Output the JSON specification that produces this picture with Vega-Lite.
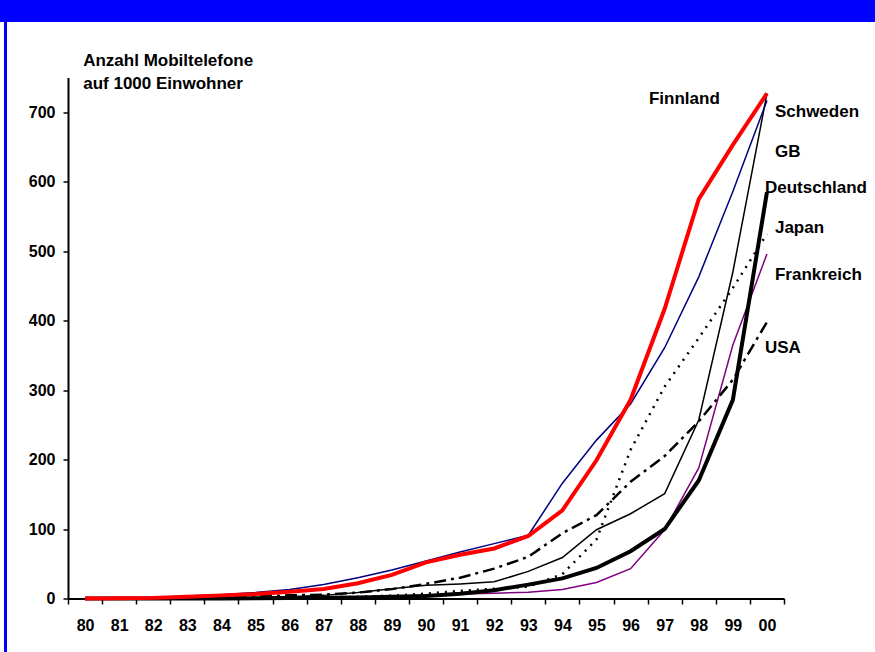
{
  "$schema": "https://vega.github.io/schema/vega-lite/v6.json",
  "padding": 0,
  "background": "white",
  "spacing": 0,
  "bounds": "flush",
  "datasets": {
    "series": [
      {"country":"Finnland","year":"80","value":0},{"country":"Finnland","year":"81","value":0.4},{"country":"Finnland","year":"82","value":0.9},{"country":"Finnland","year":"83","value":2.5},{"country":"Finnland","year":"84","value":4.5},{"country":"Finnland","year":"85","value":6.4},{"country":"Finnland","year":"86","value":9.6},{"country":"Finnland","year":"87","value":13.6},{"country":"Finnland","year":"88","value":22},{"country":"Finnland","year":"89","value":34},{"country":"Finnland","year":"90","value":52},{"country":"Finnland","year":"91","value":63},{"country":"Finnland","year":"92","value":72},{"country":"Finnland","year":"93","value":90},{"country":"Finnland","year":"94","value":127},{"country":"Finnland","year":"95","value":199},{"country":"Finnland","year":"96","value":286},{"country":"Finnland","year":"97","value":417},{"country":"Finnland","year":"98","value":575},{"country":"Finnland","year":"99","value":653},{"country":"Finnland","year":"00","value":727},
      {"country":"Schweden","year":"80","value":0.3},{"country":"Schweden","year":"81","value":0.5},{"country":"Schweden","year":"82","value":1.5},{"country":"Schweden","year":"83","value":3.5},{"country":"Schweden","year":"84","value":5.5},{"country":"Schweden","year":"85","value":8.5},{"country":"Schweden","year":"86","value":13},{"country":"Schweden","year":"87","value":20},{"country":"Schweden","year":"88","value":30},{"country":"Schweden","year":"89","value":41},{"country":"Schweden","year":"90","value":54},{"country":"Schweden","year":"91","value":67},{"country":"Schweden","year":"92","value":79},{"country":"Schweden","year":"93","value":91},{"country":"Schweden","year":"94","value":166},{"country":"Schweden","year":"95","value":228},{"country":"Schweden","year":"96","value":280},{"country":"Schweden","year":"97","value":361},{"country":"Schweden","year":"98","value":463},{"country":"Schweden","year":"99","value":586},{"country":"Schweden","year":"00","value":717},
      {"country":"GB","year":"80","value":0},{"country":"GB","year":"81","value":0},{"country":"GB","year":"82","value":0},{"country":"GB","year":"83","value":0},{"country":"GB","year":"84","value":0},{"country":"GB","year":"85","value":1},{"country":"GB","year":"86","value":2.5},{"country":"GB","year":"87","value":4.5},{"country":"GB","year":"88","value":8.5},{"country":"GB","year":"89","value":14},{"country":"GB","year":"90","value":19},{"country":"GB","year":"91","value":21},{"country":"GB","year":"92","value":24},{"country":"GB","year":"93","value":39},{"country":"GB","year":"94","value":59},{"country":"GB","year":"95","value":99},{"country":"GB","year":"96","value":122},{"country":"GB","year":"97","value":151},{"country":"GB","year":"98","value":257},{"country":"GB","year":"99","value":470},{"country":"GB","year":"00","value":727},
      {"country":"Deutschland","year":"80","value":0},{"country":"Deutschland","year":"81","value":0},{"country":"Deutschland","year":"82","value":0},{"country":"Deutschland","year":"83","value":0},{"country":"Deutschland","year":"84","value":0},{"country":"Deutschland","year":"85","value":0.5},{"country":"Deutschland","year":"86","value":0.7},{"country":"Deutschland","year":"87","value":1},{"country":"Deutschland","year":"88","value":1.6},{"country":"Deutschland","year":"89","value":2.6},{"country":"Deutschland","year":"90","value":3.5},{"country":"Deutschland","year":"91","value":7},{"country":"Deutschland","year":"92","value":12},{"country":"Deutschland","year":"93","value":20},{"country":"Deutschland","year":"94","value":29},{"country":"Deutschland","year":"95","value":44},{"country":"Deutschland","year":"96","value":68},{"country":"Deutschland","year":"97","value":100},{"country":"Deutschland","year":"98","value":170},{"country":"Deutschland","year":"99","value":286},{"country":"Deutschland","year":"00","value":585},
      {"country":"Japan","year":"80","value":0},{"country":"Japan","year":"81","value":0},{"country":"Japan","year":"82","value":0},{"country":"Japan","year":"83","value":0},{"country":"Japan","year":"84","value":0},{"country":"Japan","year":"85","value":0.5},{"country":"Japan","year":"86","value":1},{"country":"Japan","year":"87","value":1.5},{"country":"Japan","year":"88","value":2.5},{"country":"Japan","year":"89","value":4},{"country":"Japan","year":"90","value":7},{"country":"Japan","year":"91","value":11},{"country":"Japan","year":"92","value":14},{"country":"Japan","year":"93","value":17},{"country":"Japan","year":"94","value":35},{"country":"Japan","year":"95","value":85},{"country":"Japan","year":"96","value":214},{"country":"Japan","year":"97","value":305},{"country":"Japan","year":"98","value":375},{"country":"Japan","year":"99","value":447},{"country":"Japan","year":"00","value":525},
      {"country":"Frankreich","year":"80","value":0},{"country":"Frankreich","year":"81","value":0},{"country":"Frankreich","year":"82","value":0},{"country":"Frankreich","year":"83","value":0},{"country":"Frankreich","year":"84","value":0},{"country":"Frankreich","year":"85","value":0.2},{"country":"Frankreich","year":"86","value":0.3},{"country":"Frankreich","year":"87","value":0.8},{"country":"Frankreich","year":"88","value":1.7},{"country":"Frankreich","year":"89","value":3},{"country":"Frankreich","year":"90","value":5},{"country":"Frankreich","year":"91","value":6.5},{"country":"Frankreich","year":"92","value":7.5},{"country":"Frankreich","year":"93","value":9},{"country":"Frankreich","year":"94","value":13},{"country":"Frankreich","year":"95","value":23},{"country":"Frankreich","year":"96","value":43},{"country":"Frankreich","year":"97","value":99},{"country":"Frankreich","year":"98","value":188},{"country":"Frankreich","year":"99","value":365},{"country":"Frankreich","year":"00","value":496},
      {"country":"USA","year":"80","value":0},{"country":"USA","year":"81","value":0},{"country":"USA","year":"82","value":0},{"country":"USA","year":"83","value":0.5},{"country":"USA","year":"84","value":1.5},{"country":"USA","year":"85","value":3},{"country":"USA","year":"86","value":4.5},{"country":"USA","year":"87","value":5.5},{"country":"USA","year":"88","value":8.5},{"country":"USA","year":"89","value":13.5},{"country":"USA","year":"90","value":21},{"country":"USA","year":"91","value":30},{"country":"USA","year":"92","value":43},{"country":"USA","year":"93","value":60},{"country":"USA","year":"94","value":94},{"country":"USA","year":"95","value":120},{"country":"USA","year":"96","value":168},{"country":"USA","year":"97","value":205},{"country":"USA","year":"98","value":255},{"country":"USA","year":"99","value":315},{"country":"USA","year":"00","value":398}
    ],
    "labels": [
      {"country":"Finnland","year":"00","value":719},
      {"country":"Schweden","year":"00","value":701},
      {"country":"GB","year":"00","value":643},
      {"country":"Deutschland","year":"00","value":591},
      {"country":"Japan","year":"00","value":533},
      {"country":"Frankreich","year":"00","value":466},
      {"country":"USA","year":"00","value":360}
    ]
  },
  "vconcat": [
    {"width": 875, "height": 22, "data": {"values": []}, "mark": "point", "view": {"fill": "#0000FF", "stroke": null}},
    {
      "spacing": 0,
      "bounds": "flush",
      "hconcat": [
        {"width": 4, "height": 630, "data": {"values": []}, "mark": "point"},
        {"width": 3, "height": 630, "data": {"values": []}, "mark": "point", "view": {"fill": "#0000FF", "stroke": null}},
        {"width": 61, "height": 630, "data": {"values": []}, "mark": "point"},
        {
          "spacing": 54.5,
          "bounds": "flush",
          "vconcat": [
            {"width": 716, "height": 1, "data": {"values": []}, "mark": "point"},
            {
              "width": 716,
              "height": 521,
              "data": {"name": "series"},
              "encoding": {
                "x": {
                  "field": "year", "type": "ordinal", "bandPosition": 0.5,
                  "scale": {"type": "band", "domain": ["80","81","82","83","84","85","86","87","88","89","90","91","92","93","94","95","96","97","98","99","00"], "paddingInner": 0, "paddingOuter": 0},
                  "axis": {"title": null, "tickBand": "extent", "labelAngle": 0, "labelFont": "Liberation Sans", "labelFontSize": 16, "labelFontWeight": "bold", "labelColor": "black", "labelPadding": 13, "tickSize": 5.5, "tickColor": "black", "tickWidth": 1.5, "domainColor": "black", "domainWidth": 2, "grid": false}
                },
                "y": {
                  "field": "value", "type": "quantitative",
                  "scale": {"domain": [0, 750], "nice": false, "zero": true},
                  "axis": {"values": [0,100,200,300,400,500,600,700], "title": ["Anzahl Mobiltelefone", "auf 1000 Einwohner"], "titleAngle": 0, "titleAlign": "left", "titleBaseline": "top", "titleX": 14.7, "titleY": -25, "titleFont": "Liberation Sans", "titleFontSize": 17, "titleFontWeight": "bold", "titleColor": "black", "titleLineHeight": 23, "labelFont": "Liberation Sans", "labelFontSize": 16, "labelFontWeight": "bold", "labelColor": "black", "labelPadding": 8, "tickSize": 5, "tickColor": "black", "tickWidth": 1.5, "domainColor": "black", "domainWidth": 2, "grid": false}
                }
              },
              "layer": [
                {"transform": [{"filter": "datum.country == 'Frankreich'"}], "mark": {"type": "line", "color": "#800080", "strokeWidth": 1.5}},
                {"transform": [{"filter": "datum.country == 'Japan'"}], "mark": {"type": "line", "color": "black", "strokeWidth": 2.5, "strokeDash": [2, 6]}},
                {"transform": [{"filter": "datum.country == 'USA'"}], "mark": {"type": "line", "color": "black", "strokeWidth": 2.5, "strokeDash": [12, 5, 3, 5]}},
                {"transform": [{"filter": "datum.country == 'GB'"}], "mark": {"type": "line", "color": "black", "strokeWidth": 1.5}},
                {"transform": [{"filter": "datum.country == 'Deutschland'"}], "mark": {"type": "line", "color": "black", "strokeWidth": 4}},
                {"transform": [{"filter": "datum.country == 'Schweden'"}], "mark": {"type": "line", "color": "#000080", "strokeWidth": 1.5}},
                {"transform": [{"filter": "datum.country == 'Finnland'"}], "mark": {"type": "line", "color": "#FF0000", "strokeWidth": 4}},
                {"data": {"name": "labels"}, "transform": [{"filter": "datum.country == 'Finnland'"}], "mark": {"type": "text", "align": "left", "baseline": "middle", "dx": -118, "font": "Liberation Sans", "fontSize": 17, "fontWeight": "bold", "color": "black"}, "encoding": {"text": {"field": "country"}}},
                {"data": {"name": "labels"}, "transform": [{"filter": "datum.country == 'Schweden' || datum.country == 'GB' || datum.country == 'Japan' || datum.country == 'Frankreich'"}], "mark": {"type": "text", "align": "left", "baseline": "middle", "dx": 8, "font": "Liberation Sans", "fontSize": 17, "fontWeight": "bold", "color": "black"}, "encoding": {"text": {"field": "country"}}},
                {"data": {"name": "labels"}, "transform": [{"filter": "datum.country == 'Deutschland' || datum.country == 'USA'"}], "mark": {"type": "text", "align": "left", "baseline": "middle", "dx": -2, "font": "Liberation Sans", "fontSize": 17, "fontWeight": "bold", "color": "black"}, "encoding": {"text": {"field": "country"}}}
              ]
            }
          ]
        }
      ]
    }
  ],
  "config": {
    "view": {"stroke": null},
    "font": "Liberation Sans"
  }
}
